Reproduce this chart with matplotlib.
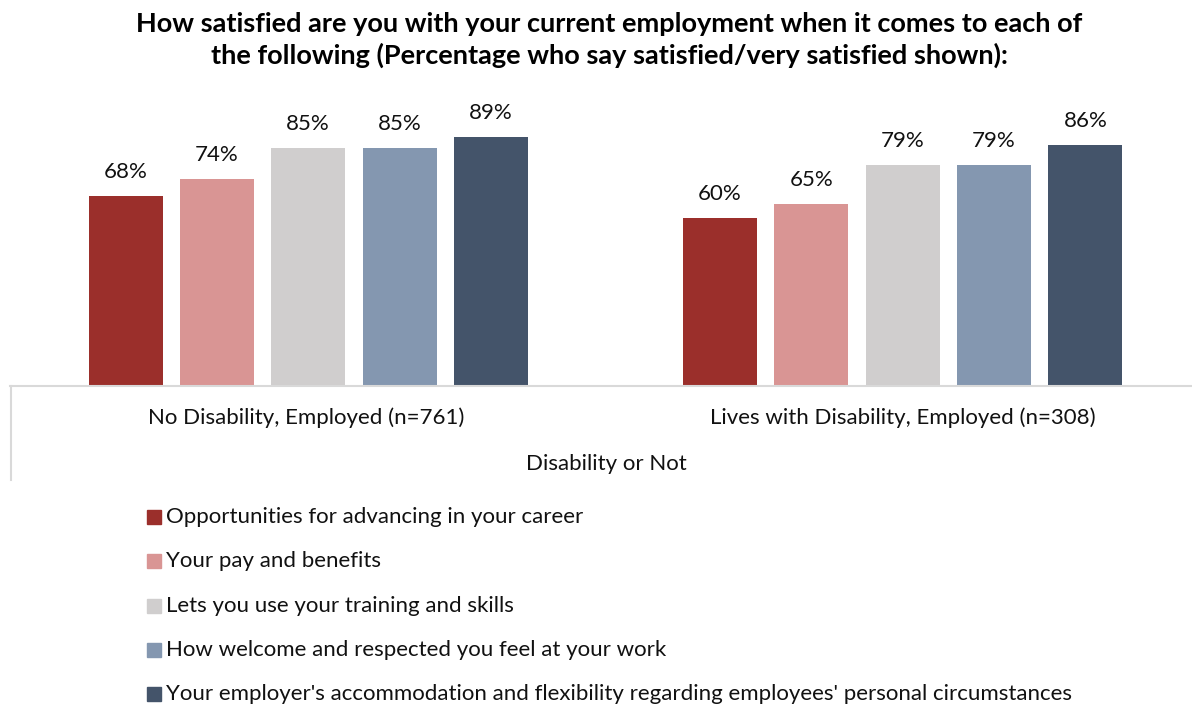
import matplotlib.pyplot as plt
import numpy as np

groups = ['No Disability, Employed (n=761)', 'Lives with Disability, Employed (n=308)']
series = ['Opportunities for advancing in your career',
          'Your pay and benefits',
          'Lets you use your training and skills',
          'How welcome and respected you feel at your work',
          "Your employer's accommodation and flexibility regarding employees' personal circumstances"]
values = [[68, 60],
          [74, 65],
          [85, 79],
          [85, 79],
          [89, 86]]
colors = ['#9B2F2B', '#D99594', '#D0CECE', '#8497B0', '#44546A']

plt.rcParams['font.family'] = ['Lato', 'DejaVu Sans']

W, H = 1192, 708
fig = plt.figure(figsize=(W / 100, H / 100), dpi=100)

# plot area: baseline at y=386px, 100% at 106px
ax = fig.add_axes([11 / W, (H - 386) / H, 1189 / W, 280 / H])
ax.set_xlim(-0.5, 1.5)
ax.set_ylim(0, 100)
ax.axis('off')

fs = 16
x = np.arange(len(groups))
width = 0.1245
pitch = 0.1536
for i, (vals, c) in enumerate(zip(values, colors)):
    pos = x + (i - 2) * pitch
    ax.bar(pos, vals, width, color=c, zorder=2)
    for p, v in zip(pos, vals):
        ax.annotate(f'{v}%', (p, v), xytext=(0, 10), textcoords='offset points',
                    ha='center', va='bottom', fontsize=fs, color='#111111')

# axis lines like the pivot chart
line_col = '#D9D9D9'
fig.add_artist(plt.Line2D([10 / W, 1.0], [(H - 386) / H] * 2, color=line_col, lw=1.5))
fig.add_artist(plt.Line2D([11 / W, 11 / W], [(H - 386) / H, (H - 480) / H], color=line_col, lw=1.5))

for xc, g in zip([306, 903], groups):
    fig.text(xc / W, (H - 418) / H, g, ha='center', va='center', fontsize=fs, color='#111111')
fig.text(606 / W, (H - 464) / H, 'Disability or Not', ha='center', va='center', fontsize=fs, color='#111111')

fig.text(609 / W, (H - 40) / H,
         'How satisfied are you with your current employment when it comes to each of\n'
         'the following (Percentage who say satisfied/very satisfied shown):',
         ha='center', va='center', fontsize=19.5, fontweight='bold', linespacing=1.32)

# legend
for i, (s, c) in enumerate(zip(series, colors)):
    yc = 517 + i * 44.25
    fig.patches.append(plt.Rectangle((147 / W, (H - yc - 7) / H), 14 / W, 14 / H,
                                     color=c, transform=fig.transFigure, figure=fig))
    fig.text(166 / W, (H - yc) / H, s, ha='left', va='center', fontsize=fs, color='#111111')

fig.savefig('out.png', dpi=100)
